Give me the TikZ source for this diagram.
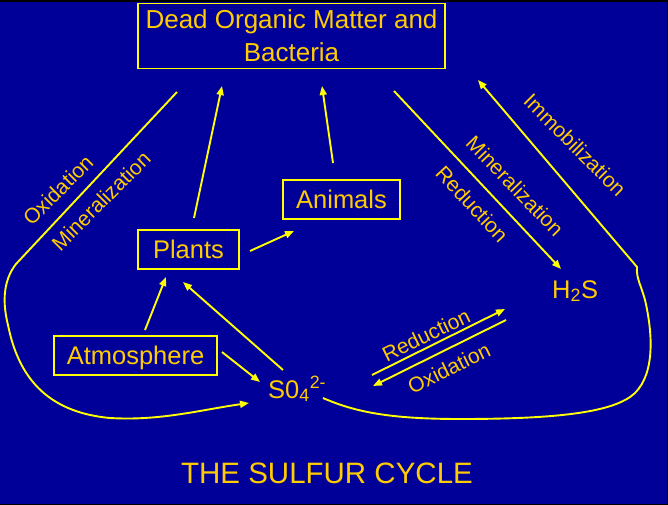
\documentclass[tikz,border=0pt]{standalone}
\usepackage{fontspec}
\setmainfont{Liberation Sans}
\usetikzlibrary{arrows.meta}
\definecolor{bgcol}{RGB}{0,0,153}
\definecolor{txtcol}{RGB}{255,204,0}
\definecolor{lncol}{RGB}{255,255,0}
\begin{document}
\begin{tikzpicture}[x=1pt,y=-1pt,
  boxbase/.style={draw=lncol,line width=1.9pt,inner sep=0pt,text=txtcol},
  box/.style={boxbase,font=\fontsize{25.5}{30}\selectfont,text height=18.5pt,text depth=0pt},
  chem/.style={text=txtcol,inner sep=0pt,font=\fontsize{25.5}{30}\selectfont},
  lbl/.style={text=txtcol,font=\fontsize{21}{24}\selectfont,inner sep=0pt},
  arr/.style={draw=lncol,line width=1.9pt,-{Triangle[length=9pt,width=7pt]}}]
\useasboundingbox (0,0) rectangle (668,505);
\fill[black] (0,0) rectangle (668,505);
\fill[bgcol] (0,2) rectangle (667,504);

% boxes
\node[boxbase,font=\fontsize{26}{33}\selectfont,align=center,minimum width=307pt,minimum height=65pt] (dead) at (291.5,36) {Dead Organic Matter and\\Bacteria};
\node[box,minimum width=101pt,minimum height=39pt] (plants) at (188.5,249.5) {Plants};
\node[box,minimum width=117pt,minimum height=39pt] (animals) at (341.5,199.5) {Animals};
\node[box,minimum width=163pt,minimum height=39pt] (atmo) at (135.5,355.5) {Atmosphere};

\node[chem,anchor=base west] (so4) at (268,398) {S0\textsubscript{4}\textsuperscript{2-}};
\node[chem,anchor=base west] (h2s) at (552,298) {H\textsubscript{2}S};
\node[text=txtcol,inner sep=0pt,font=\fontsize{29.5}{34}\selectfont,anchor=base] (title) at (327,483) {THE SULFUR CYCLE};

% connector end points
\coordinate (p1) at (194,218);  \coordinate (d1) at (222,86);
\coordinate (a1) at (333,163);  \coordinate (d2) at (322,86);
\coordinate (p2) at (250,251);  \coordinate (an1) at (294,231);
\coordinate (at1) at (145,330); \coordinate (p3) at (166,277);
\coordinate (s1) at (283,370);  \coordinate (p4) at (183,282);
\coordinate (at2) at (222,352); \coordinate (s2) at (260,382);
\coordinate (s3) at (372,375);  \coordinate (h1) at (505,309);
\coordinate (h2) at (506,320);  \coordinate (s4) at (373,386);
\coordinate (d3) at (394,91);   \coordinate (h3) at (561,269);
\coordinate (d4) at (177,92);   \coordinate (s5) at (249,403);
\coordinate (s6) at (323,398);  \coordinate (d5) at (478,80);

\draw[arr] (p1) -- (d1);
\draw[arr] (a1) -- (d2);
\draw[arr] (p2) -- (an1);
\draw[arr] (at1) -- (p3);
\draw[arr] (s1) -- (p4);
\draw[arr] (at2) -- (s2);
\draw[arr] (s3) -- (h1);
\draw[arr] (h2) -- (s4);
\draw[arr] (d3) -- (h3);
\draw[arr] (d4) -- (16,264) .. controls (2,282) and (3,305) .. (8,325)
  .. controls (18,375) and (45,412) .. (110,418)
  .. controls (160,421) and (200,410) .. (s5);
\draw[arr] (s6) .. controls (355,412) and (390,419) .. (460,419)
  .. controls (560,419) and (615,412) .. (635,393)
  .. controls (656,372) and (652,330) .. (645,300)
  .. controls (641,285) and (636,278) .. (637,267) -- (d5);

% labels
\node[lbl,rotate=45] (l1) at (58,190) {Oxidation};
\node[lbl,rotate=45] (l2) at (101,201) {Mineralization};
\node[lbl,rotate=-45] (l3) at (575,145) {Immobilization};
\node[lbl,rotate=-46] (l4) at (515,186) {Mineralization};
\node[lbl,rotate=-47] (l5) at (472,204) {Reduction};
\node[lbl,rotate=26] (l6) at (426,335) {Reduction};
\node[lbl,rotate=26] (l7) at (449,368) {Oxidation};
\end{tikzpicture}
\end{document}
